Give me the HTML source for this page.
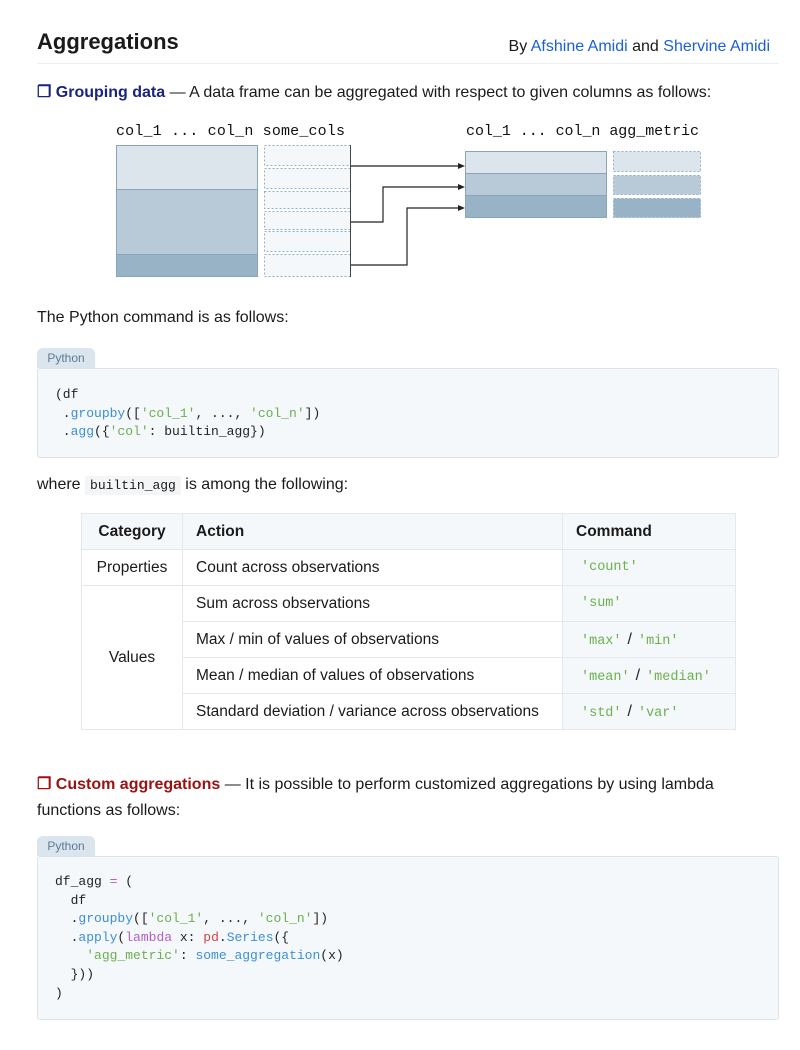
<!DOCTYPE html>
<html><head><meta charset="utf-8"><style>
body{margin:0;width:800px;height:1050px;background:#fff;font-family:"Liberation Sans",sans-serif;color:#1a1a1a;position:relative;overflow:hidden}
.a{position:absolute;white-space:nowrap}
.t{font-size:16px}
.m{font-family:"Liberation Mono",monospace}
.code{position:absolute;left:37px;width:740px;background:#f5f8fb;border:1px solid #dbe3ea;border-radius:3px}
.tab{position:absolute;left:37px;width:58px;height:20px;background:#dbe5ee;border-radius:6px 6px 0 0;color:#5d7a94;font-size:12px;text-align:center;line-height:21px}
.code pre{margin:0;position:absolute;left:17px;font-family:"Liberation Mono",monospace;font-size:13px;line-height:18.6px;color:#222}
.g{color:#6ab04c}.b{color:#3b8fd6}.p{color:#b55dc9}.r{color:#d64545}
table{position:absolute;left:81px;top:513px;width:654px;table-layout:fixed;border-collapse:collapse;font-size:15.5px}
td,th{border:1px solid #e2e8ee;height:35px;padding:0 13px;text-align:left;white-space:nowrap;overflow:visible}
th{background:#f5f8fb;font-weight:bold}
td.c{background:#f5f8fb;font-family:"Liberation Mono",monospace;font-size:13.5px;color:#6ab04c;padding-left:18px}
td.c span{color:#222;font-family:"Liberation Sans",sans-serif;font-size:16px;margin:0 6px}
</style></head><body>
<div class="a" style="left:37px;top:29px;font-size:22px;font-weight:bold">Aggregations</div>
<div class="a t" style="right:30px;top:38px">By <span style="color:#1a5fd6">Afshine Amidi</span> and <span style="color:#1a5fd6">Shervine Amidi</span></div>
<div class="a" style="left:37px;top:63px;width:742px;height:1px;background:#eceff2"></div>
<div class="a t" style="left:37px;top:82px"><b style="color:#1a237e">❐ Grouping data</b> — A data frame can be aggregated with respect to given columns as follows:</div>

<svg class="a" style="left:0;top:0" width="800" height="300">
<g font-family="Liberation Mono,monospace" font-size="15" fill="#111">
<text x="116" y="135" textLength="229">col_1  ...  col_n some_cols</text>
<text x="466" y="135" textLength="233">col_1  ... col_n agg_metric</text>
</g>
<rect x="116.5" y="145.5" width="141" height="44" fill="#dde5ec" stroke="#8aa5bb"/>
<rect x="116.5" y="189.5" width="141" height="65" fill="#b8cad8" stroke="#8aa5bb"/>
<rect x="116.5" y="254.5" width="141" height="22" fill="#98b2c6" stroke="#8aa5bb"/>
<g fill="#f4f8fb" stroke="#8fb0cc" stroke-dasharray="2,2">
<rect x="264.5" y="145.5" width="86" height="20"/>
<rect x="264.5" y="168.5" width="86" height="20"/>
<rect x="264.5" y="191.5" width="86" height="17"/>
<rect x="264.5" y="211.5" width="86" height="18"/>
<rect x="264.5" y="231.5" width="86" height="20"/>
<rect x="264.5" y="254.5" width="86" height="22"/>
</g>
<line x1="350.5" y1="145" x2="350.5" y2="277" stroke="#444"/>
<g fill="none" stroke="#222" stroke-width="1.2">
<polyline points="351,166 459,166"/>
<polyline points="351,222 383,222 383,187 459,187"/>
<polyline points="351,265 407,265 407,208 459,208"/>
</g>
<g fill="#222"><path d="M465,166 l-7,-3 v6z"/><path d="M465,187 l-7,-3 v6z"/><path d="M465,208 l-7,-3 v6z"/></g>
<rect x="465.5" y="151.5" width="141" height="22" fill="#dde5ec" stroke="#8aa5bb"/>
<rect x="465.5" y="173.5" width="141" height="22" fill="#b8cad8" stroke="#8aa5bb"/>
<rect x="465.5" y="195.5" width="141" height="22" fill="#98b2c6" stroke="#8aa5bb"/>
<g stroke="#8fb0cc" stroke-dasharray="2,2">
<rect x="613.5" y="151.5" width="87" height="20" fill="#dde5ec"/>
<rect x="613.5" y="175.5" width="87" height="19" fill="#b8cad8"/>
<rect x="613.5" y="198.5" width="87" height="19" fill="#98b2c6"/>
</g>
</svg>

<div class="a t" style="left:37px;top:309px">The Python command is as follows:</div>
<div class="tab" style="top:348px">Python</div>
<div class="code" style="top:368px;height:88px"><pre style="top:17px">(df
 .<span class="b">groupby</span>([<span class="g">'col_1'</span>, ..., <span class="g">'col_n'</span>])
 .<span class="b">agg</span>({<span class="g">'col'</span>: builtin_agg})</pre></div>

<div class="a t" style="left:37px;top:476px">where <span class="m" style="font-size:13px;background:#f3f5f7;padding:2px 5px">builtin_agg</span> is among the following:</div>

<table>
<colgroup><col style="width:101px"><col style="width:380px"><col style="width:173px"></colgroup>
<tr><th style="text-align:center">Category</th><th>Action</th><th>Command</th></tr>
<tr><td style="text-align:center;padding:0">Properties</td><td>Count across observations</td><td class="c">'count'</td></tr>
<tr><td rowspan="4" style="text-align:center;padding:0">Values</td><td>Sum across observations</td><td class="c">'sum'</td></tr>
<tr><td>Max / min of values of observations</td><td class="c">'max'<span>/</span>'min'</td></tr>
<tr><td>Mean / median of values of observations</td><td class="c">'mean'<span>/</span>'median'</td></tr>
<tr><td>Standard deviation / variance across observations</td><td class="c">'std'<span>/</span>'var'</td></tr>
</table>

<div class="a t" style="left:37px;top:772px;line-height:26px"><b style="color:#9b1111">❐ Custom aggregations</b> — It is possible to perform customized aggregations by using lambda<br>functions as follows:</div>
<div class="tab" style="top:836px">Python</div>
<div class="code" style="top:856px;height:162px"><pre style="top:16px">df_agg <span class="p">=</span> (
  df
  .<span class="b">groupby</span>([<span class="g">'col_1'</span>, ..., <span class="g">'col_n'</span>])
  .<span class="b">apply</span>(<span class="p">lambda</span> x: <span class="r">pd</span>.<span class="b">Series</span>({
    <span class="g">'agg_metric'</span>: <span class="b">some_aggregation</span>(x)
  }))
)</pre></div>
</body></html>
